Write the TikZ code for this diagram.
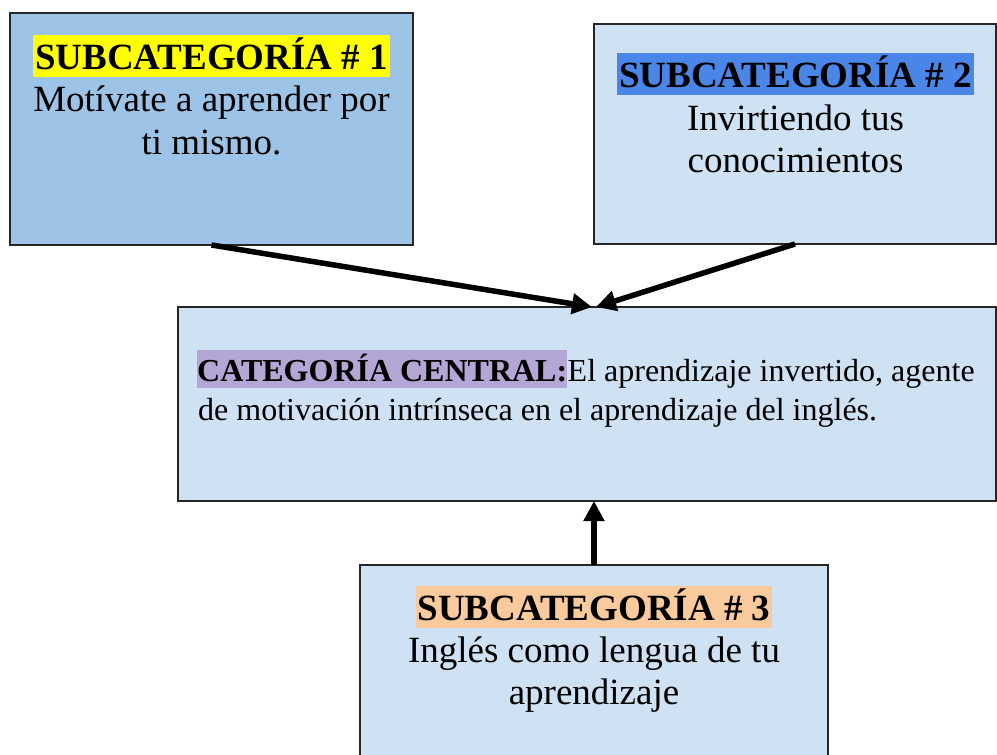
\documentclass[tikz,border=0pt]{standalone}
\usepackage{fontspec}
\setmainfont{Liberation Serif}
\usetikzlibrary{arrows.meta}
\definecolor{boxdark}{HTML}{9DC3E6}
\definecolor{boxlight}{HTML}{CFE2F3}
\definecolor{hlyellow}{HTML}{FFFF00}
\definecolor{hlblue}{HTML}{4A86E8}
\definecolor{hlpurple}{HTML}{B4A7D6}
\definecolor{hlorange}{HTML}{F9CB9C}
\tikzset{
  box/.style={draw=black!85, line width=1.5pt, rectangle, inner sep=0pt, outer sep=0pt, anchor=north west},
  subtitle/.style={font=\fontsize{37}{42}\selectfont\bfseries, inner xsep=2pt, inner ysep=0pt, text height=34pt, text depth=8pt, anchor=base},
  bodytext/.style={font=\fontsize{37}{42}\selectfont, inner sep=0pt, anchor=base},
  cattitle/.style={font=\fontsize{32}{40}\selectfont\bfseries, fill=hlpurple, inner xsep=0pt, inner ysep=0pt, text height=31pt, text depth=7pt, anchor=base west},
  cattext/.style={font=\fontsize{32}{40}\selectfont, inner sep=0pt, anchor=base west},
  arr/.style={line width=5.5pt, -{Triangle[length=20pt,width=20pt]}}
}
\begin{document}
\begin{tikzpicture}[x=1pt,y=-1pt]
\useasboundingbox (0,0) rectangle (997,755);
% boxes
\node[box, fill=boxdark, minimum width=403pt, minimum height=232pt] (b1) at (10,13) {};
\node[box, fill=boxlight, minimum width=402pt, minimum height=220pt] (b2) at (594,24) {};
\node[box, fill=boxlight, minimum width=818pt, minimum height=194pt] (c) at (178,307) {};
\node[box, fill=boxlight, minimum width=468pt, minimum height=205pt] (b3) at (360,565) {};
% box 1 text
\node[subtitle, fill=hlyellow] (t1) at (211.5,69) {SUBCATEGORÍA \# 1};
\node[bodytext] (l1a) at (211.5,111) {Motívate a aprender por};
\node[bodytext] (l1b) at (211.5,154) {ti mismo.};
% box 2 text
\node[subtitle, fill=hlblue] (t2) at (795.5,87) {SUBCATEGORÍA \# 2};
\node[bodytext] (l2a) at (795.5,130) {Invirtiendo tus};
\node[bodytext] (l2b) at (795.5,172) {conocimientos};
% central text
\node[cattitle] (ct) at (197,381) {CATEGORÍA CENTRAL:};
\node[cattext] (cl1) at (ct.base east) {El aprendizaje invertido, agente};
\node[cattext] (cl2) at (198,420) {de motivación intrínseca en el aprendizaje del inglés.};
% box 3 text
\node[subtitle, fill=hlorange] (t3) at (594,620) {SUBCATEGORÍA \# 3};
\node[bodytext] (l3a) at (594,662) {Inglés como lengua de tu};
\node[bodytext] (l3b) at (594,704) {aprendizaje};
% connectors
\draw[arr] (b1.south) -- ([xshift=5pt]c.north);
\draw[arr] (b2.south) -- ([xshift=9pt]c.north);
\draw[arr] (b3.north) -- (b3.north |- c.south);
\end{tikzpicture}
\end{document}
